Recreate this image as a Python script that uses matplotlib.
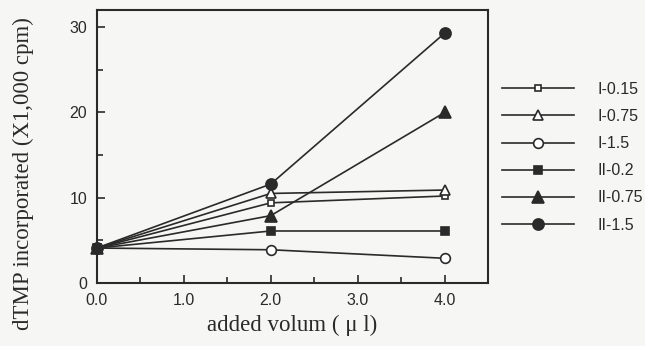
import matplotlib
matplotlib.use("Agg")
import matplotlib.pyplot as plt
from matplotlib.ticker import MultipleLocator, FormatStrFormatter

# Added volume (µl)
volume = [0.0, 2.0, 4.0]

# dTMP incorporated (x1,000 cpm) per preparation
series_names = ["I-0.15", "I-0.75", "I-1.5", "II-0.2", "II-0.75", "II-1.5"]
i_015 = [4.1, 9.4, 10.2]
i_075 = [4.1, 10.5, 10.9]
i_15 = [4.1, 3.9, 2.9]
ii_02 = [4.1, 6.1, 6.1]
ii_075 = [4.1, 7.9, 20.0]
ii_15 = [4.1, 11.6, 29.3]

x_ticks = [0.0, 1.0, 2.0, 3.0, 4.0]
y_ticks = [0, 10, 20, 30]

ink = "#2a2a2a"
bg = "#f6f6f4"

styles = [
    dict(marker="s", ms=5.0, mfc="white"),
    dict(marker="^", ms=7.5, mfc="white"),
    dict(marker="o", ms=7.0, mfc="white"),
    dict(marker="s", ms=5.5, mfc=ink),
    dict(marker="^", ms=8.0, mfc=ink),
    dict(marker="o", ms=8.0, mfc=ink),
]

fig = plt.figure(figsize=(6.45, 3.46), dpi=100, facecolor=bg)
ax = fig.add_axes([0.150, 0.182, 0.607, 0.789], facecolor=bg)

values = [i_015, i_075, i_15, ii_02, ii_075, ii_15]
handles = []
for name, vals, st in zip(series_names, values, styles):
    h, = ax.plot(volume, vals, color=ink, lw=1.2, marker=st["marker"],
                 ms=st["ms"], mfc=st["mfc"], mec=ink, mew=1.2,
                 label=name, clip_on=False, zorder=3)
    handles.append(h)

ax.set_xlim(0, 4.5)
ax.set_ylim(0, 32)
ax.set_xticks(x_ticks)
ax.set_yticks(y_ticks)
ax.xaxis.set_minor_locator(MultipleLocator(0.5))
ax.yaxis.set_minor_locator(MultipleLocator(5))
ax.xaxis.set_major_formatter(FormatStrFormatter("%.1f"))

sans = ["Liberation Sans", "DejaVu Sans"]
serif = ["Liberation Serif", "DejaVu Serif"]

ax.tick_params(axis="both", which="both", direction="in", colors=ink,
               width=1.2, labelcolor=ink)
ax.tick_params(axis="both", which="major", length=6)
ax.tick_params(axis="both", which="minor", length=4)
ax.tick_params(axis="x", pad=7)
ax.tick_params(axis="y", pad=7)
for lab in ax.get_xticklabels() + ax.get_yticklabels():
    lab.set_fontfamily(sans)
    lab.set_fontsize(11.5)

for sp in ax.spines.values():
    sp.set_color(ink)
    sp.set_linewidth(1.5)

label_font = dict(family=serif, size=16.5, color=ink)
ax.set_xlabel("added volum ( \u03bc l)", labelpad=5, **label_font)
ax.set_ylabel("dTMP incorporated (X1,000 cpm)", **label_font)
ax.yaxis.set_label_coords(-0.187, 0.40)
ax.yaxis.label.set_va("center")

leg = fig.legend(handles=handles, loc="upper left",
                 bbox_to_anchor=(0.756, 0.805), frameon=False,
                 handlelength=4.5, labelspacing=0.76, handletextpad=1.5,
                 prop=dict(family=sans, size=11.5))
for t in leg.get_texts():
    t.set_color(ink)

fig.savefig("out.png", dpi=100, facecolor=bg)
